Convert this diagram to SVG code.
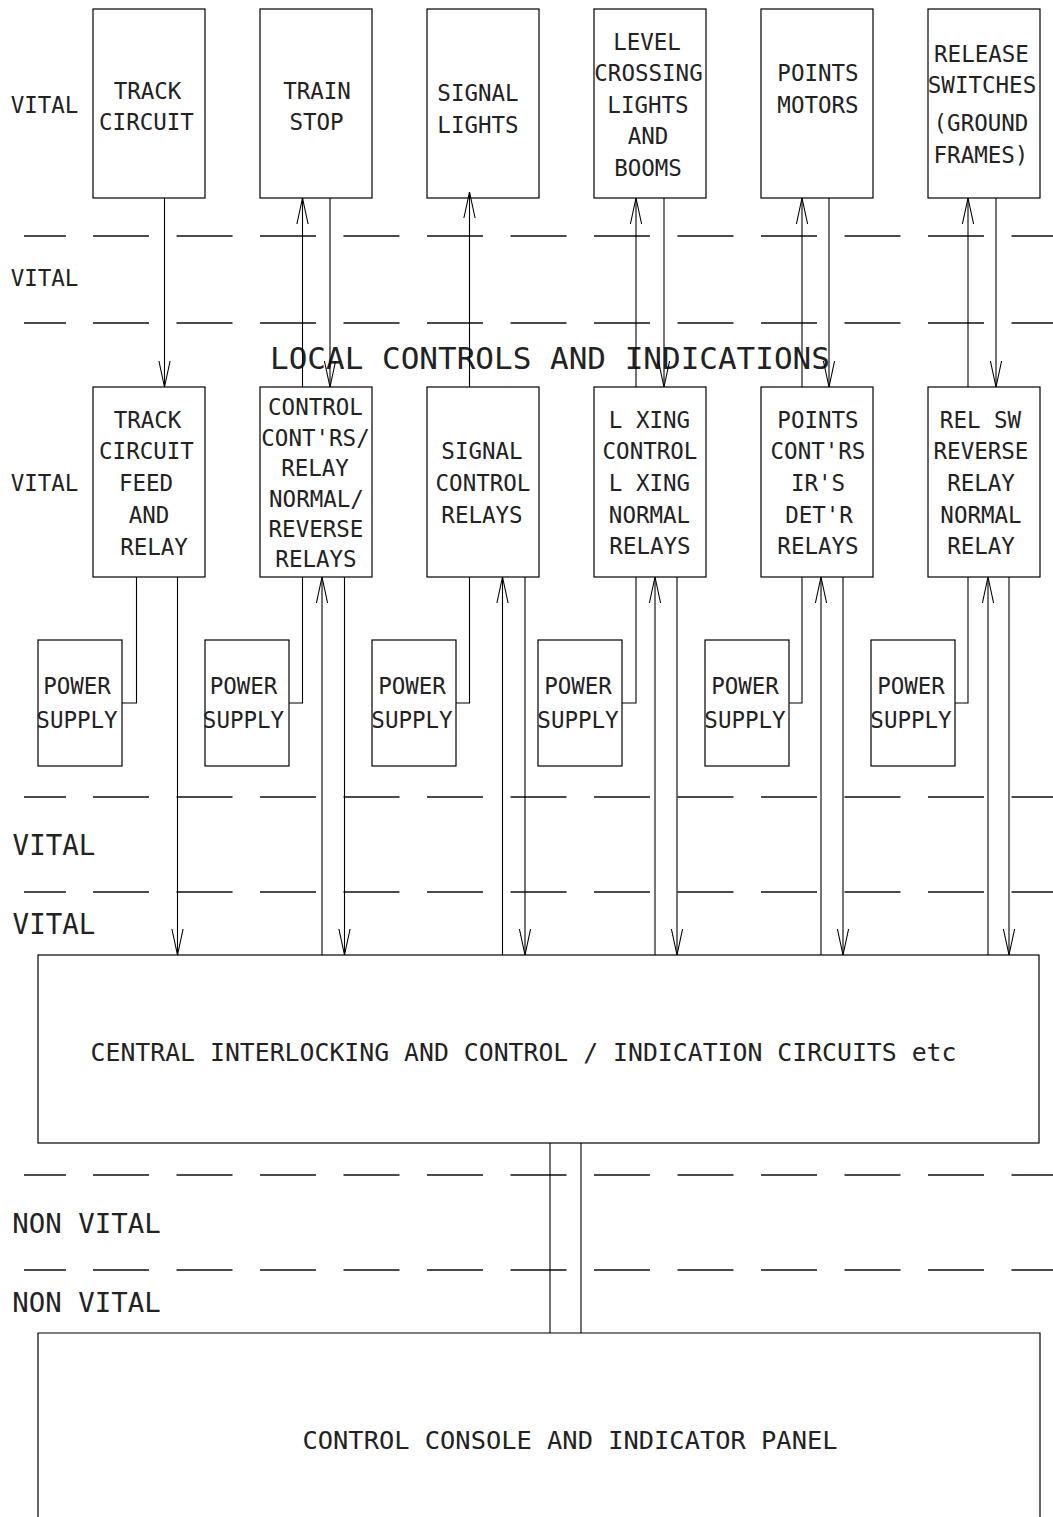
<svg xmlns="http://www.w3.org/2000/svg" width="1053" height="1517" viewBox="0 0 1053 1517">
<defs>
<style>
text{font-family:"DejaVu Sans Mono","Liberation Mono",monospace;fill:#222;text-anchor:middle}
.s{font-size:22.5px}
.vm{font-size:27.5px}
.nv{font-size:27.4px}
.big{font-size:31px}
.ctr{font-size:24.8px}
.cons{font-size:25.4px}
.box{fill:none;stroke:#000;stroke-width:1.2}
.ln{fill:none;stroke:#000;stroke-width:1.1}
.dash{fill:none;stroke:#111;stroke-width:1.4}
.dd{stroke-dasharray:56 27.5}
.ar{marker-end:url(#v)}
</style>
<marker id="v" markerUnits="userSpaceOnUse" viewBox="-28 -7 30 14" markerWidth="30" markerHeight="14" refX="0" refY="0" orient="auto" overflow="visible">
<path d="M-26,-5.6 L0,0 L-26,5.6" fill="none" stroke="#000" stroke-width="1.1"/>
</marker>
</defs>
<rect width="1053" height="1517" fill="#fff"/>

<g id="zone-dividers">
<line class="dash" x1="24" y1="236" x2="66" y2="236"/><line class="dash dd" x1="93" y1="236" x2="1053" y2="236"/>
<line class="dash" x1="24" y1="323" x2="66" y2="323"/><line class="dash dd" x1="93" y1="323" x2="1053" y2="323"/>
<line class="dash" x1="24" y1="797" x2="66" y2="797"/><line class="dash dd" x1="93" y1="797" x2="1053" y2="797"/>
<line class="dash" x1="24" y1="892" x2="66" y2="892"/><line class="dash dd" x1="93" y1="892" x2="1053" y2="892"/>
<line class="dash" x1="24" y1="1175" x2="66" y2="1175"/><line class="dash dd" x1="93" y1="1175" x2="1053" y2="1175"/>
<line class="dash" x1="24" y1="1270" x2="66" y2="1270"/><line class="dash dd" x1="93" y1="1270" x2="1053" y2="1270"/>
</g>

<g id="zone-labels">
<text class="s" x="44.5" y="113">VITAL</text>
<text class="s" x="44.5" y="286">VITAL</text>
<text class="s" x="44.5" y="491">VITAL</text>
<text class="vm" x="54" y="855">VITAL</text>
<text class="vm" x="54" y="934">VITAL</text>
<text class="nv" x="86.5" y="1233">NON VITAL</text>
<text class="nv" x="86.5" y="1312">NON VITAL</text>
<text class="big" x="550" y="369">LOCAL CONTROLS AND INDICATIONS</text>
</g>

<g id="connectors">
<line class="ln ar" x1="164.5" y1="198" x2="164.5" y2="387"/>
<polyline class="ln" points="136.5,577 136.5,703 122,703"/>
<line class="ln ar" x1="177.5" y1="577" x2="177.5" y2="955"/>
<line class="ln ar" x1="302.5" y1="387" x2="302.5" y2="198"/>
<line class="ln ar" x1="330" y1="198" x2="330" y2="387"/>
<polyline class="ln" points="302.5,577 302.5,703 289,703"/>
<line class="ln ar" x1="322" y1="955" x2="322" y2="577"/>
<line class="ln ar" x1="344.5" y1="577" x2="344.5" y2="955"/>
<line class="ln ar" x1="469.5" y1="387" x2="469.5" y2="192"/>
<polyline class="ln" points="469.5,577 469.5,703 456,703"/>
<line class="ln ar" x1="502.5" y1="955" x2="502.5" y2="577"/>
<line class="ln ar" x1="525" y1="577" x2="525" y2="955"/>
<line class="ln ar" x1="636" y1="387" x2="636" y2="198"/>
<line class="ln ar" x1="664" y1="198" x2="664" y2="387"/>
<polyline class="ln" points="636,577 636,703 622,703"/>
<line class="ln ar" x1="655" y1="955" x2="655" y2="577"/>
<line class="ln ar" x1="677" y1="577" x2="677" y2="955"/>
<line class="ln ar" x1="802" y1="387" x2="802" y2="198"/>
<line class="ln ar" x1="829" y1="198" x2="829" y2="387"/>
<polyline class="ln" points="802,577 802,703 789,703"/>
<line class="ln ar" x1="821" y1="955" x2="821" y2="577"/>
<line class="ln ar" x1="843" y1="577" x2="843" y2="955"/>
<line class="ln ar" x1="968" y1="387" x2="968" y2="198"/>
<line class="ln ar" x1="996" y1="198" x2="996" y2="387"/>
<polyline class="ln" points="968,577 968,703 955,703"/>
<line class="ln ar" x1="988" y1="955" x2="988" y2="577"/>
<line class="ln ar" x1="1009" y1="577" x2="1009" y2="955"/>
<line class="ln" x1="550" y1="1143" x2="550" y2="1333"/>
<line class="ln" x1="581" y1="1143" x2="581" y2="1333"/>
</g>

<g id="track-circuit">
<rect class="box" x="93" y="9" width="112" height="189"/>
<text class="s" x="147.5" y="99">TRACK</text>
<text class="s" x="146.5" y="130">CIRCUIT</text>
</g>
<g id="train-stop">
<rect class="box" x="260" y="9" width="112" height="189"/>
<text class="s" x="317" y="99">TRAIN</text>
<text class="s" x="316.5" y="130">STOP</text>
</g>
<g id="signal-lights">
<rect class="box" x="427" y="9" width="112" height="189"/>
<text class="s" x="478" y="101">SIGNAL</text>
<text class="s" x="478" y="133">LIGHTS</text>
</g>
<g id="level-crossing">
<rect class="box" x="594" y="9" width="112" height="189"/>
<text class="s" x="647" y="50">LEVEL</text>
<text class="s" x="648.5" y="81">CROSSING</text>
<text class="s" x="648" y="113">LIGHTS</text>
<text class="s" x="648" y="144">AND</text>
<text class="s" x="648" y="176">BOOMS</text>
</g>
<g id="points-motors">
<rect class="box" x="761" y="9" width="112" height="189"/>
<text class="s" x="818" y="81">POINTS</text>
<text class="s" x="818" y="113">MOTORS</text>
</g>
<g id="release-switches">
<rect class="box" x="928" y="9" width="112" height="189"/>
<text class="s" x="981.5" y="62">RELEASE</text>
<text class="s" x="982" y="93">SWITCHES</text>
<text class="s" x="981" y="131">(GROUND</text>
<text class="s" x="981" y="163">FRAMES)</text>
</g>

<g id="track-circuit-feed">
<rect class="box" x="93" y="387" width="112" height="190"/>
<text class="s" x="147.5" y="428">TRACK</text>
<text class="s" x="146.5" y="459">CIRCUIT</text>
<text class="s" x="146" y="491">FEED</text>
<text class="s" x="149" y="523">AND</text>
<text class="s" x="154" y="555">RELAY</text>
</g>
<g id="control-relays">
<rect class="box" x="260" y="387" width="112" height="190"/>
<text class="s" x="315.5" y="415">CONTROL</text>
<text class="s" x="315.5" y="446">CONT'RS/</text>
<text class="s" x="315" y="476">RELAY</text>
<text class="s" x="316.5" y="507">NORMAL/</text>
<text class="s" x="316" y="537">REVERSE</text>
<text class="s" x="316" y="567">RELAYS</text>
</g>
<g id="signal-control-relays">
<rect class="box" x="427" y="387" width="112" height="190"/>
<text class="s" x="482" y="459">SIGNAL</text>
<text class="s" x="483" y="491">CONTROL</text>
<text class="s" x="482" y="523">RELAYS</text>
</g>
<g id="lxing-control">
<rect class="box" x="594" y="387" width="112" height="190"/>
<text class="s" x="649.5" y="428">L XING</text>
<text class="s" x="650" y="459">CONTROL</text>
<text class="s" x="649.5" y="491">L XING</text>
<text class="s" x="649.5" y="523">NORMAL</text>
<text class="s" x="650" y="554">RELAYS</text>
</g>
<g id="points-relays">
<rect class="box" x="761" y="387" width="112" height="190"/>
<text class="s" x="818" y="428">POINTS</text>
<text class="s" x="818" y="459">CONT'RS</text>
<text class="s" x="818" y="491">IR'S</text>
<text class="s" x="819" y="523">DET'R</text>
<text class="s" x="818" y="554">RELAYS</text>
</g>
<g id="rel-sw-relays">
<rect class="box" x="928" y="387" width="112" height="190"/>
<text class="s" x="980.5" y="428">REL SW</text>
<text class="s" x="981" y="459">REVERSE</text>
<text class="s" x="981" y="491">RELAY</text>
<text class="s" x="981" y="523">NORMAL</text>
<text class="s" x="981" y="554">RELAY</text>
</g>

<g id="power-supply-1">
<rect class="box" x="38" y="640" width="84" height="126"/>
<text class="s" x="77" y="694">POWER</text>
<text class="s" x="77" y="728">SUPPLY</text>
</g>
<g id="power-supply-2">
<rect class="box" x="205" y="640" width="84" height="126"/>
<text class="s" x="243.5" y="694">POWER</text>
<text class="s" x="243.5" y="728">SUPPLY</text>
</g>
<g id="power-supply-3">
<rect class="box" x="372" y="640" width="84" height="126"/>
<text class="s" x="412" y="694">POWER</text>
<text class="s" x="412" y="728">SUPPLY</text>
</g>
<g id="power-supply-4">
<rect class="box" x="538" y="640" width="84" height="126"/>
<text class="s" x="578" y="694">POWER</text>
<text class="s" x="578" y="728">SUPPLY</text>
</g>
<g id="power-supply-5">
<rect class="box" x="705" y="640" width="84" height="126"/>
<text class="s" x="745" y="694">POWER</text>
<text class="s" x="745" y="728">SUPPLY</text>
</g>
<g id="power-supply-6">
<rect class="box" x="871" y="640" width="84" height="126"/>
<text class="s" x="911" y="694">POWER</text>
<text class="s" x="911" y="728">SUPPLY</text>
</g>

<g id="central-interlocking">
<rect class="box" x="38" y="955" width="1001" height="188"/>
<text class="ctr" x="523.5" y="1061">CENTRAL INTERLOCKING AND CONTROL / INDICATION CIRCUITS etc</text>
</g>

<g id="control-console">
<path class="box" d="M38,1520 V1333 H1040 V1520"/>
<text class="cons" x="570" y="1449">CONTROL CONSOLE AND INDICATOR PANEL</text>
</g>
</svg>
